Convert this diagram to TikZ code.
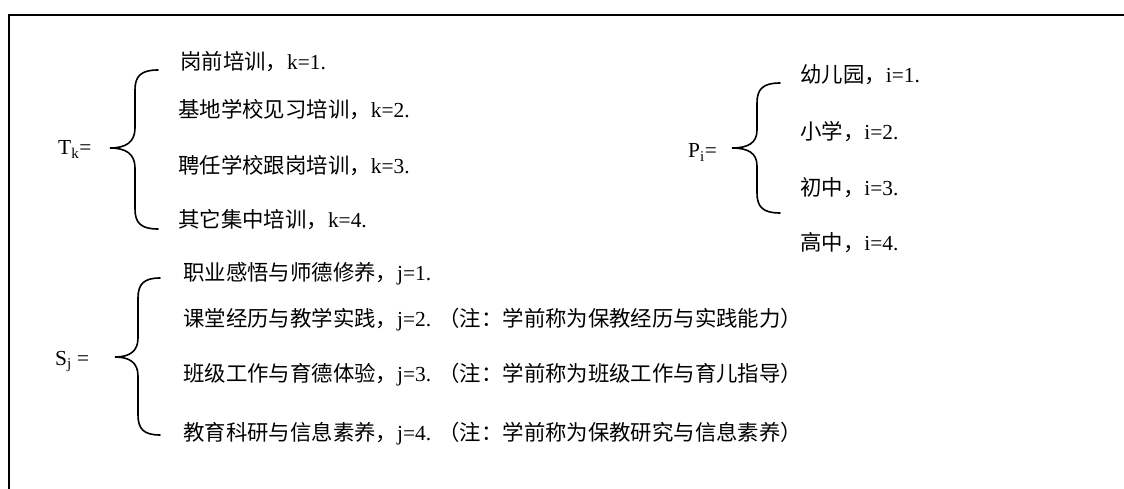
\documentclass[tikz,border=0pt]{standalone}
\usepackage{fontspec}
\setmainfont{Liberation Serif}
\newfontfamily\cjk{Noto Sans CJK SC}
\begin{document}
\begin{tikzpicture}[x=1pt,y=-1pt,
  txt/.style={anchor=base west,inner sep=0pt,font=\fontsize{21.4pt}{25pt}\selectfont},
  lbl/.style={anchor=base west,inner sep=0pt,font=\fontsize{21.4pt}{25pt}\selectfont},
  brace/.style={line width=1.6pt,line cap=round}]
\useasboundingbox (0,0) rectangle (1124,489);
\draw[line width=2.2pt] (9,489) -- (9,15) -- (1124,15);

% T_k block
\node[lbl] (T) at (58,155) {T\textsubscript{k}=};
\draw[brace] (158,70) .. controls (141,70) and (135,76) .. (135,90) -- (135,128)
  .. controls (135,142) and (126,148) .. (110,148)
  .. controls (126,148) and (135,154) .. (135,168) -- (135,209)
  .. controls (135,223) and (141,229) .. (158,229);
\node[txt] (t1) at (180,70) {{\cjk 岗前培训，}k=1.};
\node[txt] (t2) at (178,118) {{\cjk 基地学校见习培训，}k=2.};
\node[txt] (t3) at (178,174) {{\cjk 聘任学校跟岗培训，}k=3.};
\node[txt] (t4) at (178,228) {{\cjk 其它集中培训，}k=4.};

% P_i block
\node[lbl] (P) at (688,158) {P\textsubscript{i}=};
\draw[brace] (780,83) .. controls (763,83) and (757,89) .. (757,103) -- (757,130)
  .. controls (757,143) and (748,148) .. (732,148)
  .. controls (748,148) and (757,153) .. (757,166) -- (757,193)
  .. controls (757,207) and (763,213) .. (780,213);
\node[txt] (p1) at (800,83) {{\cjk 幼儿园，}i=1.};
\node[txt] (p2) at (800,140) {{\cjk 小学，}i=2.};
\node[txt] (p3) at (800,196) {{\cjk 初中，}i=3.};
\node[txt] (p4) at (800,251) {{\cjk 高中，}i=4.};

% S_j block
\node[lbl] (S) at (55,365) {S\textsubscript{j} =};
\draw[brace] (160,278) .. controls (144,278) and (138,284) .. (138,298) -- (138,338)
  .. controls (138,351) and (130,357) .. (115,357)
  .. controls (130,357) and (138,363) .. (138,376) -- (138,415)
  .. controls (138,429) and (144,435) .. (160,435);
\node[txt] (s1) at (183,280) {{\cjk 职业感悟与师德修养，}j=1.};
\node[txt] (s2) at (183,326) {{\cjk 课堂经历与教学实践，}j=2. {\cjk （注：学前称为保教经历与实践能力）}};
\node[txt] (s3) at (183,381) {{\cjk 班级工作与育德体验，}j=3. {\cjk （注：学前称为班级工作与育儿指导）}};
\node[txt] (s4) at (183,440) {{\cjk 教育科研与信息素养，}j=4. {\cjk （注：学前称为保教研究与信息素养）}};
\end{tikzpicture}
\end{document}
